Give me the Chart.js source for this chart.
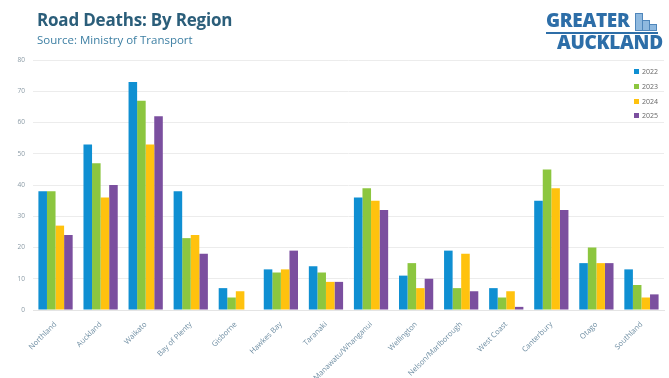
<!DOCTYPE html>
<html>
<head>
<meta charset="utf-8">
<script src="https://cdn.jsdelivr.net/npm/chart.js@4"></script>
<style>
  html, body { margin: 0; padding: 0; background: #fff; }
  .wrap { position: relative; width: 669px; height: 378px; font-family: "Open Sans", Lato, sans-serif; }
  canvas { position: absolute; left: 0; top: 0; }
  .title { position: absolute; left: 37px; top: 8px; font-size: 17px; font-weight: 700; color: #2b5e7a; letter-spacing: -0.2px; }
  .sub { position: absolute; left: 37px; top: 32px; font-size: 11.5px; color: #3d7fa3; }
  .logo { position: absolute; left: 546px; top: 11px; font-weight: 800; color: #2d6ea8; line-height: 1; }
  .logo .g { font-size: 19px; letter-spacing: -0.3px; }
  .logo .a { font-size: 19px; margin-left: 11px; margin-top: 3px; letter-spacing: -0.3px; }
  .logo .bar { position: absolute; left: 0; top: 21px; width: 112px; height: 2px; background: #2d6ea8; }
  .logo .b { position: absolute; background: #8fb9df; border: 1px solid #4f86bb; }
  .legend { position: absolute; left: 634px; top: 65px; font-size: 7px; color: #666; line-height: 14.8px; }
  .legend span { display: inline-block; width: 5px; height: 5px; margin-right: 3px; vertical-align: 0px; }
</style>
</head>
<body>
<div class="wrap">
  <canvas id="chart" width="669" height="378"></canvas>
  <div class="title">Road Deaths: By Region</div>
  <div class="sub">Source: Ministry of Transport</div>
  <div class="logo">
    <div class="g">GREATER</div><div class="bar"></div><div class="a">AUCKLAND</div>
    <div class="b" style="left:89px;top:2px;width:6px;height:16px"></div>
    <div class="b" style="left:96px;top:9px;width:6px;height:9px"></div>
    <div class="b" style="left:103px;top:13px;width:6px;height:5px"></div>
  </div>
  <div class="legend" id="legend"></div>
</div>
<script>
const regions = ['Northland', 'Auckland', 'Waikato', 'Bay of Plenty', 'Gisborne', 'Hawkes Bay', 'Taranaki',
  'Manawatu/Whanganui', 'Wellington', 'Nelson/Marlborough', 'West Coast', 'Canterbury', 'Otago', 'Southland'];
const years = ['2022', '2023', '2024', '2025'];
const deaths2022 = [38, 53, 73, 38, 7, 13, 14, 36, 11, 19, 7, 35, 15, 13];
const deaths2023 = [38, 47, 67, 23, 4, 12, 12, 39, 15, 7, 4, 45, 20, 8];
const deaths2024 = [27, 36, 53, 24, 6, 13, 9, 35, 7, 18, 6, 39, 15, 4];
const deaths2025 = [24, 40, 62, 18, 0, 19, 9, 32, 10, 6, 1, 32, 15, 5];
const yTicks = [0, 10, 20, 30, 40, 50, 60, 70, 80];

const colors = ['#0f8fd2', '#8cc63f', '#ffc20e', '#7b4f9f'];
const series = [deaths2022, deaths2023, deaths2024, deaths2025];

const ctx = document.getElementById('chart').getContext('2d');

const datasets = years.map((y, i) => ({
  label: y,
  data: series[i],
  backgroundColor: colors[i],
  borderWidth: 0,
  barPercentage: 1,
  categoryPercentage: 0.76,
}));

new Chart(ctx, {
  type: 'bar',
  data: { labels: regions, datasets: datasets },
  options: {
    responsive: false,
    animation: false,
    layout: { padding: { top: 60, right: 5, left: 0, bottom: 0 } },
    scales: {
      x: {
        grid: { display: false },
        border: { color: '#e4e4e4' },
        ticks: {
          minRotation: 45,
          maxRotation: 45,
          autoSkip: false,
          color: '#6f8ea3',
          font: { family: 'Open Sans', size: 7.5 },
          padding: 2,
        },
        afterFit: (scale) => { scale.height = 68; }
      },
      y: {
        min: 0,
        max: 80,
        afterBuildTicks: (scale) => { scale.ticks = yTicks.map(v => ({ value: v })); },
        grid: { color: '#ececec', drawTicks: false },
        border: { display: false },
        ticks: {
          color: '#8a9aa5',
          font: { family: 'Open Sans', size: 6.5 },
          padding: 8,
        },
        afterFit: (scale) => { scale.width = 33; }
      }
    },
    plugins: {
      legend: { display: false },
      tooltip: { enabled: false }
    }
  }
});

// legend as html, built from the same series
document.getElementById('legend').innerHTML = years.map((y, i) =>
  '<div><span style="background:' + colors[i] + '"></span>' + y + '</div>').join('');
</script>
</body>
</html>
